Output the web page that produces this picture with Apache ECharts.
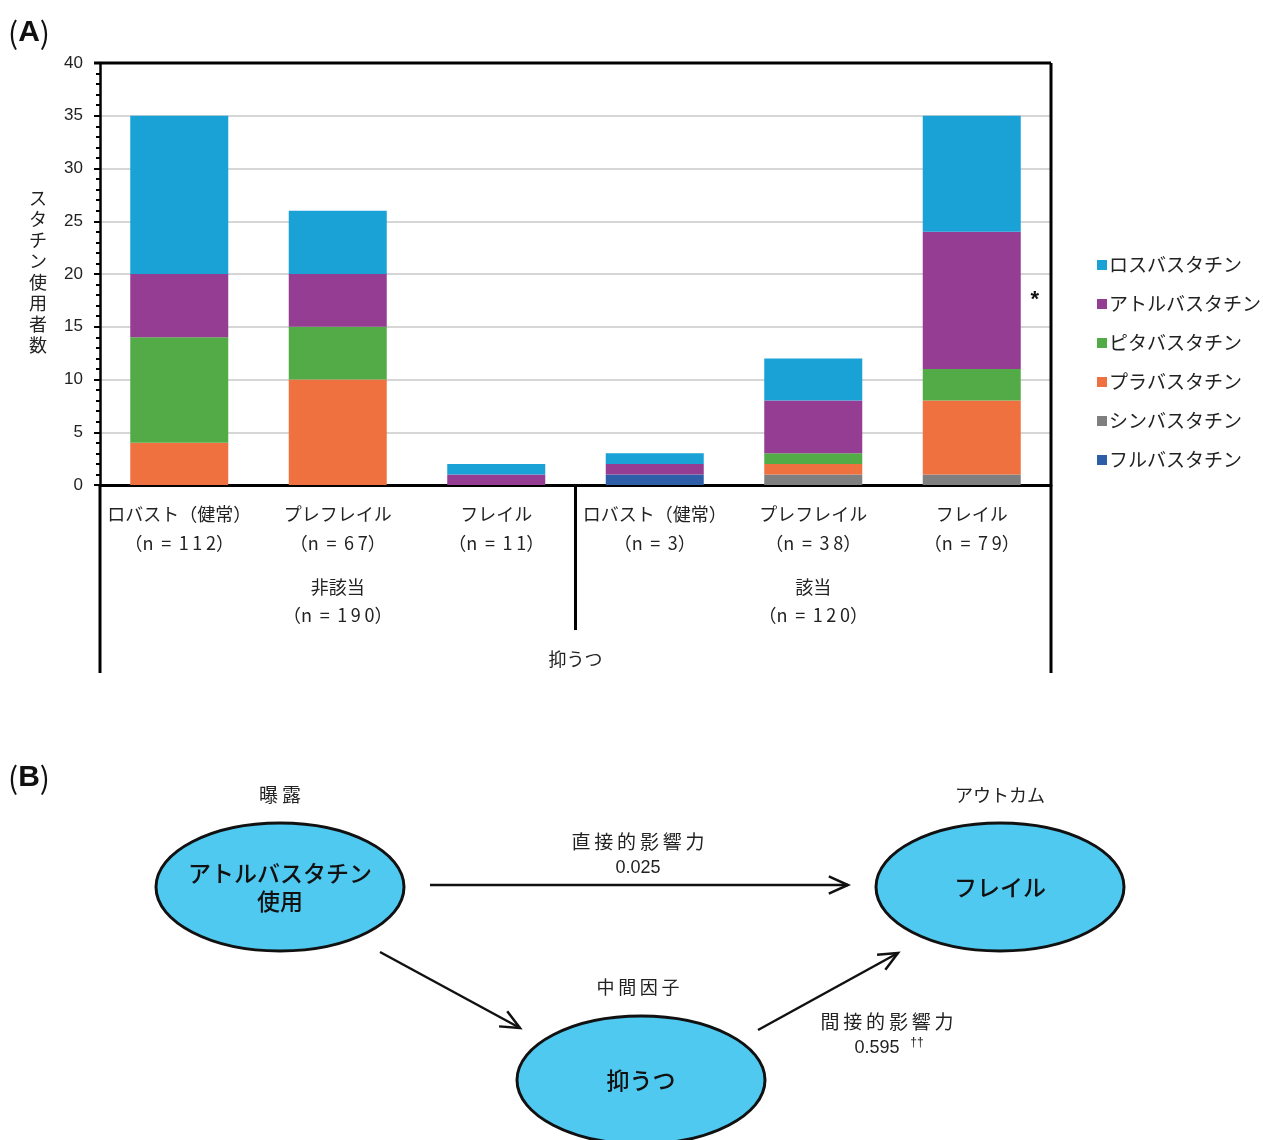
<!DOCTYPE html>
<html>
<head>
<meta charset="utf-8">
<script src="https://cdn.jsdelivr.net/npm/echarts@6/dist/echarts.min.js"></script>
<style>
html,body{margin:0;padding:0;background:#fff;}
#main{width:1263px;height:1140px;}
</style>
</head>
<body>
<div id="main"></div>
<script>
// ---------- Data (Panel A) ----------
const categories = ['ロバスト（健常）', 'プレフレイル', 'フレイル', 'ロバスト（健常）', 'プレフレイル', 'フレイル'];
const categoryN = [112, 67, 11, 3, 38, 79];
const groupNames = ['非該当', '該当'];
const groupN = [190, 120];
const outerGroup = '抑うつ';
const yAxisName = 'スタチン使用者数';
const yTicks = [0, 5, 10, 15, 20, 25, 30, 35, 40];

const fluvastatin  = [0, 0, 0, 1, 0, 0];
const simvastatin  = [0, 0, 0, 0, 1, 1];
const pravastatin  = [4, 10, 0, 0, 1, 7];
const pitavastatin = [10, 5, 0, 0, 1, 3];
const atorvastatin = [6, 5, 1, 1, 5, 13];
const rosuvastatin = [15, 6, 1, 1, 4, 11];

const seriesNames = ['フルバスタチン', 'シンバスタチン', 'プラバスタチン', 'ピタバスタチン', 'アトルバスタチン', 'ロスバスタチン'];
const seriesValues = [fluvastatin, simvastatin, pravastatin, pitavastatin, atorvastatin, rosuvastatin];
const seriesColors = ['#2e5ea8', '#7f7f7f', '#ef7140', '#53ab47', '#953c93', '#1aa1d6'];
const legendOrder = ['ロスバスタチン', 'アトルバスタチン', 'ピタバスタチン', 'プラバスタチン', 'シンバスタチン', 'フルバスタチン'];
const significanceMark = '*';

// ---------- Data (Panel B) ----------
const exposureLabel = '曝露';
const exposureNode = 'アトルバスタチン\n使用';
const outcomeLabel = 'アウトカム';
const outcomeNode = 'フレイル';
const mediatorLabel = '中間因子';
const mediatorNode = '抑うつ';
const directLabel = '直接的影響力';
const directEffect = '0.025';
const indirectLabel = '間接的影響力';
const indirectEffect = '0.595';
const indirectMark = '††';

const JP = '"Noto Sans CJK JP", "Noto Sans", sans-serif';
const NUM = '"Liberation Sans", Arial, sans-serif';
const TXT = '#222';
const THIN = '\u2009';
const spaced = s => s.split('').join(THIN);
const nText = n => '（n' + ' ' + THIN + '=' + ' ' + THIN + spaced(String(n)) + '）';

const chart = echarts.init(document.getElementById('main'));

const GL = 100, GT = 63, GR = 1051, GB = 485;

const option = {
  backgroundColor: '#fff',
  animation: false,
  grid: { left: GL, top: GT, width: GR - GL, height: GB - GT, containLabel: false },
  legend: {
    orient: 'vertical',
    left: 1092,
    top: 250,
    data: legendOrder,
    icon: 'rect',
    itemWidth: 10,
    itemHeight: 10,
    itemGap: 19,
    textStyle: { fontFamily: JP, fontSize: 19, color: TXT, lineHeight: 20, padding: [0, 0, 0, -3] }
  },
  xAxis: {
    type: 'category',
    data: categories,
    axisLine: { lineStyle: { color: '#000', width: 3 } },
    axisTick: { show: false },
    axisLabel: {
      fontFamily: JP, fontSize: 18, color: TXT, lineHeight: 29, margin: 15, interval: 0,
      formatter: (v, i) => v + '\n' + nText(categoryN[i])
    },
    splitLine: { show: false }
  },
  yAxis: {
    type: 'value',
    min: 0, max: 40, interval: 5,
    axisLine: { show: true, lineStyle: { color: '#000', width: 2.5 } },
    axisTick: { show: true, length: 6, lineStyle: { color: '#000', width: 2 } },
    minorTick: { show: true, splitNumber: 5, length: 4, lineStyle: { color: '#000', width: 2 } },
    axisLabel: { fontFamily: NUM, fontSize: 17, color: TXT, margin: 17,
      formatter: v => yTicks.indexOf(v) >= 0 ? String(v) : '' },
    splitLine: { show: true, lineStyle: { color: '#d6d6d6', width: 2 } }
  },
  series: seriesNames.map((name, i) => ({
    name: name,
    type: 'bar',
    stack: 'statin',
    barWidth: 98,
    itemStyle: { color: seriesColors[i] },
    data: seriesValues[i]
  }))
};
chart.setOption(option);

// ---------- overlay graphics ----------
function px(catIdx, v) { return chart.convertToPixel({ gridIndex: 0 }, [catIdx, v]); }
const step = px(1, 0)[0] - px(0, 0)[0];
const divX = px(2, 0)[0] + step / 2;
const g1x = px(1, 0)[0];
const g2x = px(4, 0)[0];
const lastBar = px(5, 0);
const starY = px(5, 17.5)[1];

function arrow(x1, y1, x2, y2) {
  const ang = Math.atan2(y2 - y1, x2 - x1);
  const L = 21, a = 0.42;
  return [
    { type: 'line', shape: { x1, y1, x2, y2 }, style: { stroke: '#111', lineWidth: 2.5 } },
    { type: 'polyline', shape: { points: [
      [x2 - L * Math.cos(ang - a), y2 - L * Math.sin(ang - a)],
      [x2, y2],
      [x2 - L * Math.cos(ang + a), y2 - L * Math.sin(ang + a)]
    ] }, style: { stroke: '#111', lineWidth: 2.5, fill: null } }
  ];
}
function ellipse(cx, cy, text) {
  return [
    { type: 'ellipse', shape: { cx, cy, rx: 124, ry: 64 }, style: { fill: '#50c9f1', stroke: '#111', lineWidth: 3 } },
    { type: 'text', x: cx, y: cy, style: { text, fontFamily: JP, fontSize: 23, fontWeight: 500, fill: '#111', align: 'center', verticalAlign: 'middle', lineHeight: 28 } }
  ];
}
function label(x, y, text, size, family) {
  return { type: 'text', x, y, style: { text, fontFamily: family || JP, fontSize: size || 18, fill: TXT, align: 'center', verticalAlign: 'middle' } };
}
const panelRich = { p: { fontFamily: JP, fontSize: 30, fill: '#111' }, b: { fontFamily: NUM, fontSize: 30, fontWeight: 'bold', fill: '#111' } };

const gfx = [
  // panel labels
  { type: 'text', x: 8, y: 33, style: { text: '{p|(}{b|A}{p|)}', rich: panelRich, verticalAlign: 'middle' } },
  { type: 'text', x: 8, y: 778, style: { text: '{p|(}{b|B}{p|)}', rich: panelRich, verticalAlign: 'middle' } },
  // y axis name (vertical)
  { type: 'text', x: 38, y: 272, style: { text: yAxisName.split('').join('\n'), fontFamily: JP, fontSize: 18, lineHeight: 21, fill: TXT, align: 'center', verticalAlign: 'middle' } },
  // box lines
  { type: 'line', shape: { x1: 94, y1: GT, x2: GR, y2: GT }, style: { stroke: '#000', lineWidth: 3 } },
  { type: 'line', shape: { x1: GR, y1: GT, x2: GR, y2: 673 }, style: { stroke: '#000', lineWidth: 3 } },
  { type: 'line', shape: { x1: GL, y1: GB, x2: GL, y2: 673 }, style: { stroke: '#000', lineWidth: 3 } },
  { type: 'line', shape: { x1: divX, y1: GB, x2: divX, y2: 630 }, style: { stroke: '#000', lineWidth: 3 } },
  // group labels
  label(g1x, 587, groupNames[0]),
  label(g1x, 615, nText(groupN[0])),
  label(g2x, 587, groupNames[1]),
  label(g2x, 615, nText(groupN[1])),
  label(divX, 659, outerGroup),
  // significance
  { type: 'text', x: lastBar[0] + 63, y: starY, style: { text: significanceMark, fontFamily: NUM, fontSize: 22, fontWeight: 'bold', fill: '#111', align: 'center', verticalAlign: 'middle' } },
  // Panel B
  label(280, 795, spaced(exposureLabel), 19),
  label(1000, 795, outcomeLabel, 18),
  label(638, 987, spaced(mediatorLabel), 18),
  ...ellipse(280, 887, exposureNode),
  ...ellipse(1000, 887, outcomeNode),
  ...ellipse(641, 1080, mediatorNode),
  ...arrow(430, 885, 848, 885),
  ...arrow(380, 952, 520, 1028),
  ...arrow(758, 1030, 898, 953),
  label(638, 842, spaced(directLabel), 19),
  label(638, 868, directEffect, 18, NUM),
  label(887, 1022, spaced(indirectLabel), 19),
  { type: 'text', x: 877, y: 1048, style: { text: indirectEffect, fontFamily: NUM, fontSize: 18, fill: TXT, align: 'center', verticalAlign: 'middle' } },
  { type: 'text', x: 917, y: 1043, style: { text: indirectMark, fontFamily: NUM, fontSize: 12, fill: TXT, align: 'center', verticalAlign: 'middle' } }
];
chart.setOption({ graphic: gfx });
</script>
</body>
</html>
